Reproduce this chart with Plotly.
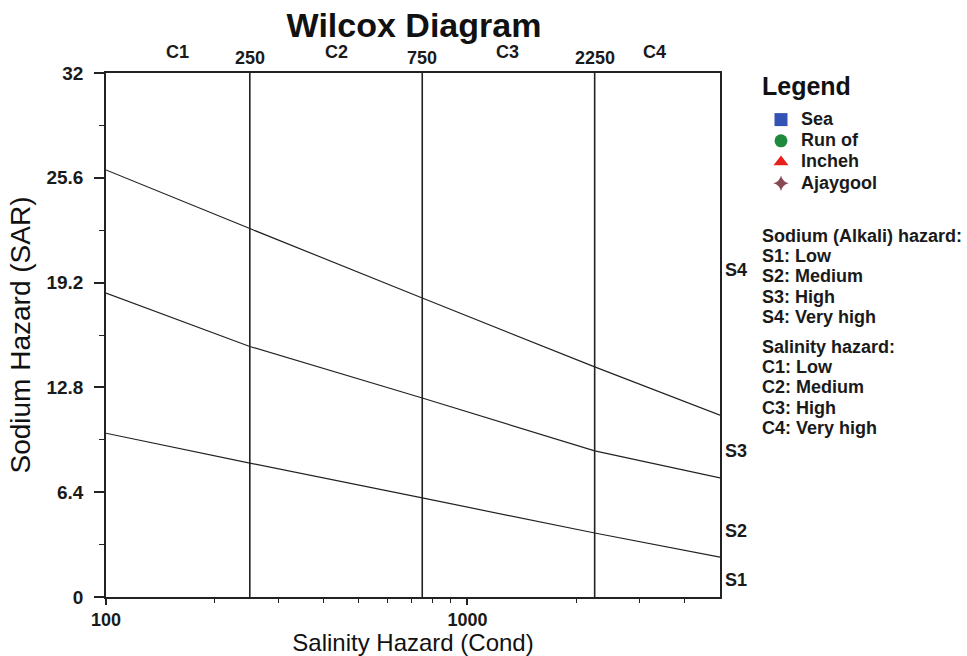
import plotly.graph_objects as go
import math

# ---- data ----
cond_points = [100, 250, 750, 2250, 5000]
s1_s2_boundary = [10.0, 8.18, 6.05, 3.91, 2.44]
s2_s3_boundary = [18.56, 15.3, 12.15, 8.92, 7.27]
s3_s4_boundary = [26.08, 22.5, 18.26, 14.05, 11.1]
c_boundaries = [250, 750, 2250]
c_labels = ["C1", "C2", "C3", "C4"]
c_label_pos = [158, 433, 1294, 3300]
s_labels = ["S1", "S2", "S3", "S4"]
s_label_pos = [1.04, 4.03, 8.9, 19.97]
y_ticks = [0, 6.4, 12.8, 19.2, 25.6, 32]
y_minor = [3.2, 9.6, 16.0, 22.4, 28.8]
x_ticks = [100, 1000]
x_minor = [200, 300, 400, 500, 600, 700, 800, 900, 2000, 3000, 4000]
series_names = ["Sea", "Run of", "Incheh", "Ajaygool"]
series_symbols = ["square", "circle", "triangle-up", "star-diamond"]
series_colors = ["#3553b5", "#1f8a3c", "#e8201c", "#8a4a55"]
hazard_text = ["Sodium (Alkali) hazard:", "S1: Low", "S2: Medium", "S3: High", "S4: Very high"]
salinity_text = ["Salinity hazard:", "C1: Low", "C2: Medium", "C3: High", "C4: Very high"]

FONT = "Liberation Sans, Arial, sans-serif"
W, H = 967, 656
L, R, T, B = 106, 247, 73, 59
pw, ph = W - L - R, H - T - B


def px(xr):   # screenshot x -> paper fraction
    return (xr - L) / pw


def py(yr):   # screenshot y -> paper fraction
    return 1 - (yr - T) / ph


fig = go.Figure()

for yv in [s1_s2_boundary, s2_s3_boundary, s3_s4_boundary]:
    fig.add_trace(go.Scatter(x=cond_points, y=yv, mode="lines",
                             line=dict(color="#222222", width=1.2),
                             showlegend=False, hoverinfo="skip"))
for cb in c_boundaries:
    fig.add_trace(go.Scatter(x=[cb, cb], y=[0, 32], mode="lines",
                             line=dict(color="#222222", width=1.6),
                             showlegend=False, hoverinfo="skip"))

for n, s, c in zip(series_names, series_symbols, series_colors):
    fig.add_trace(go.Scatter(x=[None], y=[None], mode="markers",
                             name='<span style="font-size:18px"><b>%s</b></span>' % n,
                             marker=dict(symbol=s, color=c, size=13 if s != "star-diamond" else 11)))

tf = dict(size=18, family=FONT, color="#1a1a1a")
annos = []
for lab, xv in zip(c_labels, c_label_pos):
    annos.append(dict(x=math.log10(xv), y=py(52), xref="x", yref="paper", text="<b>%s</b>" % lab,
                      showarrow=False, font=tf, xanchor="center", yanchor="middle"))
for cb in c_boundaries:
    annos.append(dict(x=math.log10(cb), y=py(58), xref="x", yref="paper", text="<b>%d</b>" % cb,
                      showarrow=False, font=tf, xanchor="center", yanchor="middle"))
for lab, yv in zip(s_labels, s_label_pos):
    annos.append(dict(x=1.0, y=yv, xref="paper", yref="y", text="<b>%s</b>" % lab, xshift=3,
                      showarrow=False, font=tf, xanchor="left", yanchor="middle"))
for i, t in enumerate(hazard_text):
    annos.append(dict(x=px(760), y=py(236 + 20.2 * i), xref="paper", yref="paper", text="<b>%s</b>" % t,
                      showarrow=False, font=tf, xanchor="left", yanchor="middle"))
for i, t in enumerate(salinity_text):
    annos.append(dict(x=px(760), y=py(347 + 20.2 * i), xref="paper", yref="paper", text="<b>%s</b>" % t,
                      showarrow=False, font=tf, xanchor="left", yanchor="middle"))
annos.append(dict(x=px(760), y=py(86), xref="paper", yref="paper", text="<b>Legend</b>",
                  showarrow=False, font=dict(size=25, family=FONT, color="#111"),
                  xanchor="left", yanchor="middle"))

fig.update_layout(
    width=W, height=H,
    margin=dict(l=L, r=R, t=T, b=B, autoexpand=False),
    plot_bgcolor="white", paper_bgcolor="white",
    title=dict(text="<b>Wilcox Diagram</b>", x=414 / W, xanchor="center",
               y=1 - 25 / H, yanchor="middle",
               font=dict(size=34, family=FONT, color="#111")),
    font=dict(family=FONT, color="#1a1a1a"),
    xaxis=dict(type="log", range=[2, math.log10(5000)], tickvals=x_ticks,
               ticktext=["<b>100</b>", "<b>1000</b>"], ticks="outside", ticklen=6,
               tickcolor="#222222", tickwidth=1.5,
               minor=dict(tickvals=x_minor, ticks="outside", ticklen=4, tickcolor="#222222", tickwidth=1.3),
               showgrid=False, zeroline=False, showline=True, linecolor="#222222", linewidth=1.6,
               mirror=True, tickfont=tf,
               title=dict(text="Salinity Hazard (Cond)", font=dict(size=24, family=FONT, color="#111"),
                          standoff=9)),
    yaxis=dict(range=[0, 32], tickvals=y_ticks,
               ticktext=["<b>%g</b>" % v for v in y_ticks], ticks="outside", ticklen=10,
               tickcolor="#222222", tickwidth=1.5, ticklabelstandoff=7,
               minor=dict(tickvals=y_minor, ticks="outside", ticklen=5, tickcolor="#222222", tickwidth=1.3),
               showgrid=False, zeroline=False, showline=True, linecolor="#222222", linewidth=1.6,
               mirror=True, tickfont=dict(size=19, family=FONT, color="#1a1a1a"),
               title=dict(text="Sodium Hazard (SAR)", font=dict(size=28, family=FONT, color="#111"),
                          standoff=8)),
    legend=dict(x=px(761), y=py(104), xanchor="left", yanchor="top",
                font=dict(size=14, family=FONT, color="#1a1a1a"), tracegroupgap=0,
                itemwidth=30, bgcolor="rgba(0,0,0,0)", borderwidth=0),
    annotations=annos,
)

fig.write_html("out.html", config={"displayModeBar": False},
               post_script="document.body.style.margin='0';document.body.style.overflow='hidden';")
